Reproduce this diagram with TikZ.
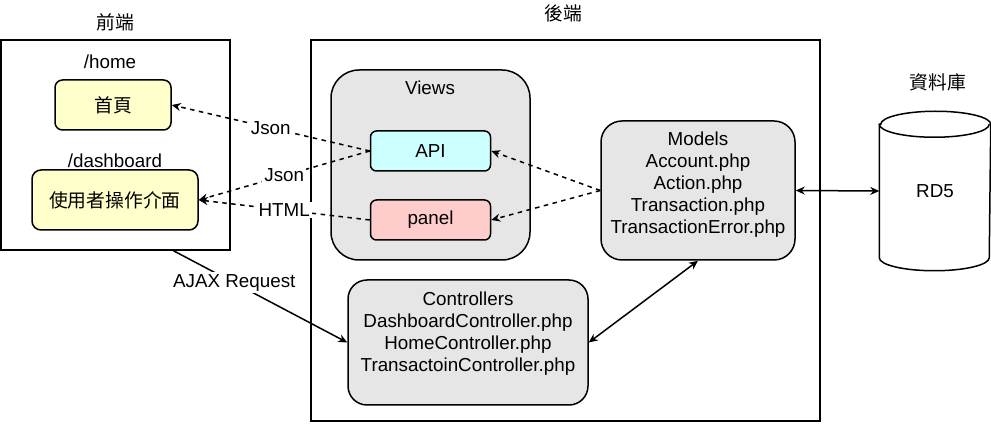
\documentclass[tikz,border=0pt]{standalone}
\usepackage{fontspec}
\setmainfont{Liberation Sans}
\newfontfamily\cjk{Noto Sans CJK TC}
\usetikzlibrary{arrows.meta,positioning}
\definecolor{layergray}{HTML}{E6E6E6}
\definecolor{pageyel}{HTML}{FFFFCC}
\definecolor{apicyan}{HTML}{CCFFFF}
\definecolor{panelred}{HTML}{FFCCCC}

\begin{document}
\begin{tikzpicture}[
  x=0.5pt, y=-0.5pt,
  font=\fontsize{9.4}{11}\selectfont,
  line width=0.75pt,
  frame/.style={draw, inner sep=0pt},
  layer/.style={draw, fill=layergray, align=center},
  page/.style={draw, rounded corners=#1, align=center},
  page/.default=3pt,
  ttl/.style={inner sep=0pt},
  elbl/.style={fill=white, inner sep=1pt},
  dasharrow/.style={-{Stealth[length=4.5pt, width=4pt]}, dash pattern=on 2.25pt off 2.25pt},
  arrow/.style={-{Stealth[length=4.5pt, width=4pt]}},
  biarrow/.style={{Stealth[length=4.5pt, width=4pt]}-{Stealth[length=4.5pt, width=4pt]}}]

\useasboundingbox (0,0) rectangle (991,432);

\node[frame, minimum width=114.5pt, minimum height=105pt] (front) at (115.5,145) {};
\node[frame, minimum width=254.5pt, minimum height=190.5pt] (back) at (565.5,230.5) {};
\node[ttl] (frontttl) at (115,22) {\cjk 前端};
\node[ttl] (backttl) at (563,13) {\cjk 後端};
\node[ttl] (dbttl) at (938,82) {\cjk 資料庫};

\node[ttl] (homettl) at (110,62) {/home};
\node[page=3.75pt, fill=pageyel, minimum width=58pt, minimum height=25pt] (home) at (113,105) {\cjk 首頁};
\node[ttl] (dashttl) at (115,161) {/dashboard};
\node[page=4.5pt, fill=pageyel, minimum width=83pt, minimum height=30pt] (dash) at (115,200) {\cjk 使用者操作介面};

\node[layer, rounded corners=14pt, minimum width=99.5pt, minimum height=95pt] (views) at (430.5,165) {};
\node[ttl] (viewsttl) at (430,88) {Views};
\node[page, fill=apicyan, minimum width=60pt, minimum height=20pt] (api) at (430.5,151) {API};
\node[page, fill=panelred, minimum width=60pt, minimum height=20pt] (panel) at (430.5,220) {panel};

\node[layer, rounded corners=10.5pt, minimum width=97pt, minimum height=69.5pt] (models) at (698,190.5)
  {Models\\Account.php\\Action.php\\Transaction.php\\TransactionError.php\\[-2.8pt]\mbox{}};
\node[layer, rounded corners=9.5pt, minimum width=120pt, minimum height=62.5pt] (ctrl) at (468,342.5)
  {Controllers\\DashboardController.php\\HomeController.php\\TransactoinController.php\\\mbox{}};

\node[inner sep=0pt, minimum width=55pt, minimum height=79pt] (db) at (935,191) {RD5};
\draw ([yshift=-6.5pt]db.north west) -- ([yshift=6.5pt]db.south west)
  arc[start angle=180, end angle=360, x radius=27.5pt, y radius=6.5pt]
  -- ([yshift=-6.5pt]db.north east)
  arc[start angle=0, end angle=180, x radius=27.5pt, y radius=6.5pt] -- cycle;
\draw ([yshift=-6.5pt]db.north west) arc[start angle=180, end angle=360, x radius=27.5pt, y radius=6.5pt];

\draw[dasharrow] (api.west) -- node[elbl] {Json} (home.east);
\draw[dasharrow] (api.west) -- node[elbl] {Json} (dash.east);
\draw[dasharrow] (panel.west) -- node[elbl] {HTML} (dash.east);
\draw[dasharrow] (models.west) -- (api.east);
\draw[dasharrow] (models.west) -- (panel.east);
\draw[biarrow] (models.east) -- (db.west);
\draw[biarrow] (ctrl.east) -- (models.south);

\coordinate (ajaxsrc) at ([xshift=29pt]front.south);
\draw[arrow] (ajaxsrc) -- node[elbl, pos=0.35] {AJAX Request} (ctrl.west);
\end{tikzpicture}
\end{document}
